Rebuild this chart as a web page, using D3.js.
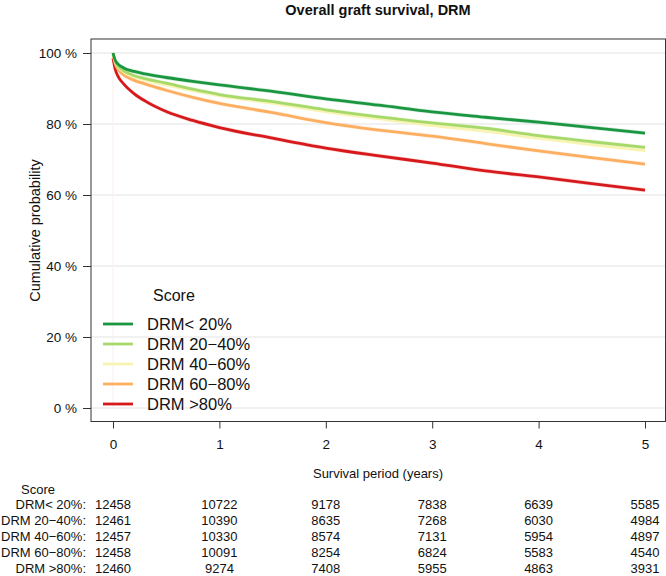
<!DOCTYPE html>
<html>
<head>
<meta charset="utf-8">
<script src="https://cdn.jsdelivr.net/npm/d3@7/dist/d3.min.js"></script>
<style>
  body { margin: 0; background: #fff; }
  svg text { font-family: "Liberation Sans", Arial, sans-serif; fill: #111; }
</style>
</head>
<body>
<div id="chart"></div>
<script>
// survival curve data (years, percent)
const times = [0, 0.02, 0.05, 0.1, 0.2, 0.3, 0.5, 0.75, 1, 1.5, 2, 2.5, 3, 3.5, 4, 4.5, 5];
const drmLt20 = [100, 98, 96.8, 95.8, 94.8, 94.1, 93.1, 92, 91, 89.2, 87.1, 85.3, 83.4, 81.9, 80.5, 79, 77.4];
const drm2040 = [100, 97.8, 96.2, 95, 93.6, 92.8, 91.5, 89.8, 88.3, 86.3, 84, 82, 80.3, 78.8, 76.7, 75, 73.4];
const drm4060 = [100, 97.7, 96, 94.7, 93.3, 92.4, 91, 89.4, 88, 85.9, 83.5, 81.5, 79.6, 78, 76, 74.2, 72.5];
const drm6080 = [99.5, 97, 95.3, 93.8, 92.3, 91.3, 89.5, 87.5, 85.8, 83.2, 80.4, 78.3, 76.6, 74.5, 72.4, 70.5, 68.7];
const drmGt80 = [98.5, 95.5, 93.3, 91.3, 88.5, 86.5, 83.5, 81, 79, 76, 73.2, 71, 69, 66.8, 65.1, 63.2, 61.4];

const groups = ["DRM< 20%", "DRM 20\u221240%", "DRM 40\u221260%", "DRM 60\u221280%", "DRM >80%"];
const colors = ["#1a9641", "#a6d96a", "#f7f3b0", "#fdae61", "#d7191c"];
const seriesValues = [drmLt20, drm2040, drm4060, drm6080, drmGt80];

// numbers at risk
const riskTimes = [0, 1, 2, 3, 4, 5];
const atRiskLt20 = [12458, 10722, 9178, 7838, 6639, 5585];
const atRisk2040 = [12461, 10390, 8635, 7268, 6030, 4984];
const atRisk4060 = [12457, 10330, 8574, 7131, 5954, 4897];
const atRisk6080 = [12458, 10091, 8254, 6824, 5583, 4540];
const atRiskGt80 = [12460, 9274, 7408, 5955, 4863, 3931];
const atRisk = [atRiskLt20, atRisk2040, atRisk4060, atRisk6080, atRiskGt80];

const yTicks = [0, 20, 40, 60, 80, 100];

const width = 666, height = 576;
const box = {left: 91, right: 665.5, top: 39, bottom: 421.5};

const svg = d3.select("#chart").append("svg")
    .attr("width", width)
    .attr("height", height);

const x = d3.scaleLinear().domain([0, 5]).range([113, 645]);
const y = d3.scaleLinear().domain([0, 100]).range([408, 53]);

// title
svg.append("text")
    .attr("x", 378).attr("y", 15)
    .attr("text-anchor", "middle")
    .attr("font-size", 14.5)
    .attr("font-weight", "bold")
    .text("Overall graft survival, DRM");

// grid
svg.append("g").selectAll("line")
    .data(yTicks)
    .enter().append("line")
    .attr("x1", box.left).attr("x2", box.right)
    .attr("y1", d => y(d)).attr("y2", d => y(d))
    .attr("stroke", "#e3e3e3")
    .attr("stroke-width", 1);

// y axis
const yAxis = svg.append("g")
    .attr("transform", `translate(${box.left},0)`)
    .call(d3.axisLeft(y).tickValues(yTicks).tickSize(8).tickPadding(6).tickFormat(d => d + " %"));
yAxis.select(".domain").remove();
yAxis.selectAll("line").attr("stroke", "#333");
yAxis.selectAll("text").attr("font-size", 13.5).attr("font-family", "Liberation Sans, Arial, sans-serif").attr("fill", "#111");

// x axis
const xAxis = svg.append("g")
    .attr("transform", `translate(0,${box.bottom})`)
    .call(d3.axisBottom(x).tickValues(riskTimes).tickSize(7).tickPadding(11).tickFormat(d3.format("d")));
xAxis.select(".domain").remove();
xAxis.selectAll("line").attr("stroke", "#333");
xAxis.selectAll("text").attr("font-size", 13.5).attr("font-family", "Liberation Sans, Arial, sans-serif").attr("fill", "#111");

// faint vertical line at start
svg.append("line")
    .attr("x1", x(0)).attr("x2", x(0))
    .attr("y1", y(98)).attr("y2", y(0))
    .attr("stroke", "#fbeeee").attr("stroke-width", 1);

// confidence bands + curves
const band = d3.area()
    .x((d, i) => x(times[i]))
    .y0(d => y(d - 0.6))
    .y1(d => y(d + 0.6))
    .curve(d3.curveMonotoneX);
const line = d3.line()
    .x((d, i) => x(times[i]))
    .y(d => y(d))
    .curve(d3.curveMonotoneX);

seriesValues.forEach((vals, idx) => {
    svg.append("path")
        .attr("d", band(vals))
        .attr("fill", colors[idx])
        .attr("opacity", 0.18);
});
seriesValues.slice().reverse().forEach((vals, k) => {
    const idx = seriesValues.length - 1 - k;
    svg.append("path")
        .attr("d", line(vals))
        .attr("fill", "none")
        .attr("stroke", colors[idx])
        .attr("stroke-width", 2.8)
        .attr("stroke-linejoin", "round");
});

// box
svg.append("rect")
    .attr("x", box.left).attr("y", box.top)
    .attr("width", box.right - box.left).attr("height", box.bottom - box.top)
    .attr("fill", "none").attr("stroke", "#333").attr("stroke-width", 1);

// y label
svg.append("text")
    .attr("transform", `translate(40,${y(50)}) rotate(-90)`)
    .attr("text-anchor", "middle")
    .attr("font-size", 14.5)
    .text("Cumulative probability");

// legend
const legend = svg.append("g");
legend.append("text")
    .attr("x", 153).attr("y", 301)
    .attr("font-size", 16)
    .text("Score");
groups.forEach((g, i) => {
    const ly = 324 + i * 20;
    legend.append("line")
        .attr("x1", 103).attr("x2", 133)
        .attr("y1", ly).attr("y2", ly)
        .attr("stroke", colors[i]).attr("stroke-width", 2.8);
    legend.append("text")
        .attr("x", 147).attr("y", ly + 6)
        .attr("font-size", 16.5)
        .text(g);
});

// x label
svg.append("text")
    .attr("x", 378).attr("y", 478)
    .attr("text-anchor", "middle")
    .attr("font-size", 13)
    .text("Survival period (years)");

// risk table
svg.append("text")
    .attr("x", 38).attr("y", 494)
    .attr("text-anchor", "middle")
    .attr("font-size", 13)
    .text("Score");
atRisk.forEach((row, i) => {
    const ry = 509 + i * 16;
    svg.append("text")
        .attr("x", 86).attr("y", ry)
        .attr("text-anchor", "end")
        .attr("font-size", 13)
        .text(groups[i] + ":");
    svg.append("g").selectAll("text")
        .data(row)
        .enter().append("text")
        .attr("x", (d, j) => x(riskTimes[j]))
        .attr("y", ry)
        .attr("text-anchor", "middle")
        .attr("font-size", 13)
        .text(d => d);
});
</script>
</body>
</html>
